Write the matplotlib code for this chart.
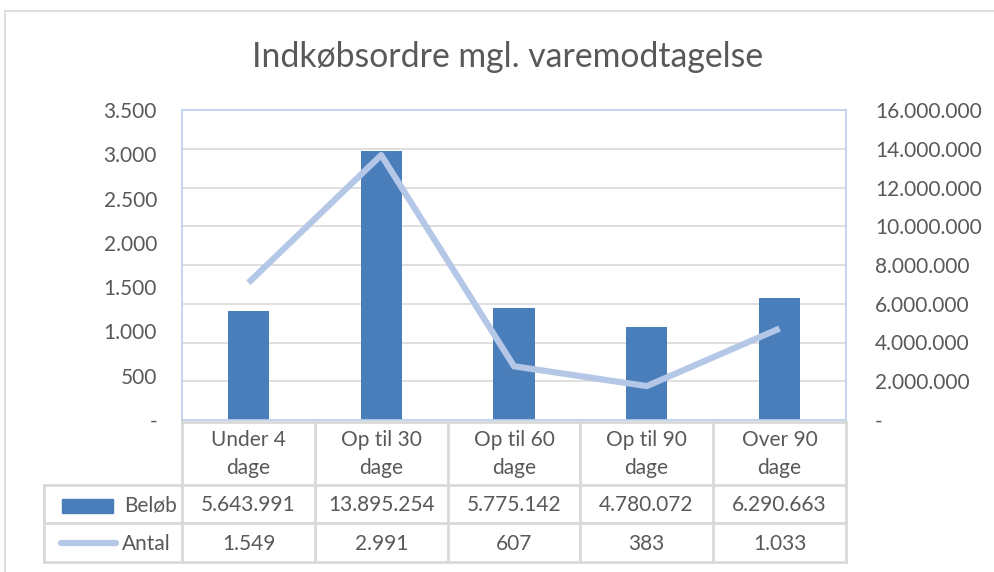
import matplotlib
matplotlib.use("Agg")
import matplotlib.pyplot as plt
from matplotlib.lines import Line2D
from matplotlib.patches import Rectangle
from matplotlib.ticker import FuncFormatter

categories = ["Under 4\ndage", "Op til 30\ndage", "Op til 60\ndage", "Op til 90\ndage", "Over 90\ndage"]
beloeb = [5643991, 13895254, 5775142, 4780072, 6290663]
antal = [1549, 2991, 607, 383, 1033]
beloeb_labels = ["5.643.991", "13.895.254", "5.775.142", "4.780.072", "6.290.663"]
antal_labels = ["1.549", "2.991", "607", "383", "1.033"]
title = "Indkøbsordre mgl. varemodtagelse"

W, H = 994, 572
FONT = "Lato"
TXT = "#595959"
GRID = "#D9D9D9"
BAR = "#4A7EBB"
LINE = "#B4C7E7"
SPINE = "#BCD0EA"
FS = 15
PX = 0.72  # points per pixel at dpi 100

plt.rcParams["font.family"] = [FONT, "DejaVu Sans"]

fig = plt.figure(figsize=(W / 100, H / 100), dpi=100)
fig.patch.set_facecolor("white")

def fx(x):
    return x / W

def fy(y):
    return 1 - y / H

# outer chart frame
fig.add_artist(Rectangle((fx(5), fy(600)), fx(1100), fy(11) - fy(600), transform=fig.transFigure,
                         fill=False, edgecolor="#D9D9D9", linewidth=1.2))

L, R, T, B = 182, 846, 110, 420
ax = fig.add_axes([fx(L), fy(B), fx(R - L), fy(T) - fy(B)])
ax2 = ax.twinx()
x = list(range(len(categories)))

ax.bar(x, beloeb, width=0.31, color=BAR, zorder=2)
ax.set_xlim(-0.5, len(categories) - 0.5)
ax.set_ylim(0, 16000000)
ax.set_yticks(range(0, 16000001, 2000000))

def fmt_big(v, pos):
    if v == 0:
        return "-"
    return f"{int(v):,}".replace(",", ".")

ax.yaxis.set_major_formatter(FuncFormatter(fmt_big))
ax.set_xticks([])
ax.grid(axis="y", color=GRID, linewidth=1.2, zorder=0)
ax.set_axisbelow(True)
for s in ax.spines.values():
    s.set_color(SPINE)
    s.set_linewidth(1.2)

ax2.plot(x, antal, color=LINE, linewidth=4.5, solid_capstyle="butt", zorder=3)
ax2.set_ylim(0, 3500)
ax2.set_yticks(range(0, 3501, 500))
ax2.set_xlim(-0.5, len(categories) - 0.5)

def fmt_small(v, pos):
    if v == 0:
        return "-"
    return f"{int(v):,}".replace(",", ".")

ax2.yaxis.set_major_formatter(FuncFormatter(fmt_small))
for s in ax2.spines.values():
    s.set_visible(False)

# swap tick sides: big values on the right, counts on the left
ax.yaxis.tick_right()
ax2.yaxis.tick_left()
ax.tick_params(axis="y", which="both", left=False, labelleft=False, right=False, labelright=True,
               length=0, pad=29 * PX, labelsize=FS, labelcolor=TXT)
ax2.tick_params(axis="y", which="both", right=False, labelright=False, left=False, labelleft=True,
                length=0, pad=13 * PX, labelsize=FS, labelcolor=TXT)
for lbl in ax.get_yticklabels():
    lbl.set_horizontalalignment("left")
for t in ax2.yaxis.get_major_ticks():
    if t.get_loc() == 0:
        t.set_pad(25 * PX)

fig.text(fx(508), fy(57), title, ha="center", va="center", fontsize=24.3, color=TXT)

# data table
cols = [182, 315, 448, 580, 713, 846]
def hline(y, x0, x1):
    fig.add_artist(Line2D([fx(x0), fx(x1)], [fy(y), fy(y)], transform=fig.transFigure,
                          color=GRID, linewidth=2))
def vline(xx, y0, y1):
    fig.add_artist(Line2D([fx(xx), fx(xx)], [fy(y0), fy(y1)], transform=fig.transFigure,
                          color=GRID, linewidth=2))

hline(422, 182, 846)
hline(485, 44, 846)
hline(523, 44, 846)
hline(562, 44, 846)
for c in cols:
    vline(c, 422, 562)
vline(44, 485, 562)

for i, cat in enumerate(categories):
    cx = (cols[i] + cols[i + 1]) / 2
    l1, l2 = cat.split("\n")
    fig.text(fx(cx), fy(440), l1, ha="center", va="center", fontsize=FS, color=TXT)
    fig.text(fx(cx), fy(468), l2, ha="center", va="center", fontsize=FS, color=TXT)
    fig.text(fx(cx), fy(505), beloeb_labels[i], ha="center", va="center", fontsize=FS, color=TXT)
    fig.text(fx(cx), fy(544), antal_labels[i], ha="center", va="center", fontsize=FS, color=TXT)

# legend keys
fig.add_artist(Rectangle((fx(62), fy(513)), fx(51), fy(499) - fy(513), transform=fig.transFigure,
                         color=BAR))
fig.add_artist(Line2D([fx(61), fx(116)], [fy(543), fy(543)], transform=fig.transFigure,
                      color=LINE, linewidth=4.5, solid_capstyle="round"))
fig.text(fx(177), fy(505), "Beløb", ha="right", va="center", fontsize=FS, color=TXT)
fig.text(fx(171), fy(544), "Antal", ha="right", va="center", fontsize=FS, color=TXT)

fig.savefig("out.png", dpi=100, facecolor="white")
